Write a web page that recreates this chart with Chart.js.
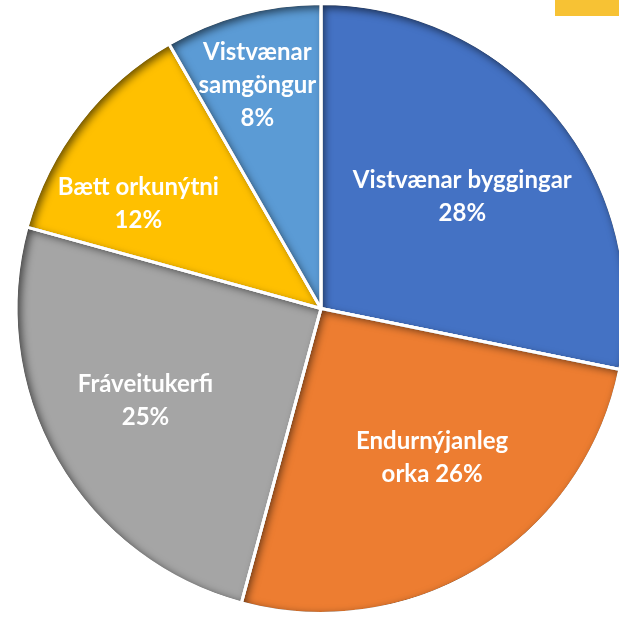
<!DOCTYPE html>
<html>
<head>
<meta charset="utf-8">
<script src="https://cdn.jsdelivr.net/npm/chart.js@4/dist/chart.umd.min.js"></script>
<style>
  html, body { margin: 0; padding: 0; background: #ffffff; overflow: hidden; }
  #wrap { position: absolute; left: 0; top: 0; width: 642px; height: 620px; }
  #tag { position: absolute; left: 555px; top: 0; width: 64px; height: 16px; background: #F7C234; }
</style>
</head>
<body>
<div id="wrap"><canvas id="c"></canvas></div>
<div id="tag"></div>
<script>
const categories = ["Vistvænar byggingar", "Endurnýjanleg orka", "Fráveitukerfi", "Bætt orkunýtni", "Vistvænar samgöngur"];
const shares = [28.2, 26.0, 25.1, 12.4, 8.3];
const colors = ["#4472C4", "#ED7D31", "#A5A5A5", "#FFC000", "#5B9BD5"];
// words per label line (last line includes the percentage)
const lineWords = [[2, 1], [1, 2], [1, 1], [2, 1], [1, 1, 1]];

function labelLines(i) {
  const words = (categories[i] + " " + Math.round(shares[i]) + "%").split(" ");
  const out = [];
  let k = 0;
  lineWords[i].forEach(n => { out.push(words.slice(k, k + n).join(" ")); k += n; });
  return out;
}

const innerShadow = {
  id: "innerShadow",
  afterDatasetsDraw(chart) {
    const ctx = chart.ctx;
    const meta = chart.getDatasetMeta(0);
    meta.data.forEach(arc => {
      const p = arc.getProps(["x", "y", "startAngle", "endAngle", "outerRadius"], true);
      ctx.save();
      ctx.beginPath();
      ctx.moveTo(p.x, p.y);
      ctx.arc(p.x, p.y, p.outerRadius - 1.5, p.startAngle, p.endAngle);
      ctx.closePath();
      ctx.clip();
      ctx.beginPath();
      ctx.rect(-2000, -2000, 5000, 5000);
      ctx.moveTo(p.x, p.y);
      ctx.arc(p.x, p.y, p.outerRadius - 1.5, p.startAngle, p.endAngle);
      ctx.closePath();
      ctx.shadowColor = "rgba(0,0,0,0.6)";
      ctx.shadowBlur = 8;
      ctx.shadowOffsetX = 3;
      ctx.shadowOffsetY = 3;
      ctx.fillStyle = "rgba(0,0,0,1)";
      ctx.fill("evenodd");
      ctx.restore();
      ctx.save();
      ctx.beginPath();
      ctx.moveTo(p.x, p.y);
      ctx.arc(p.x, p.y, p.outerRadius, p.startAngle, p.endAngle);
      ctx.closePath();
      ctx.strokeStyle = "#ffffff";
      ctx.lineWidth = 3;
      ctx.lineJoin = "bevel";
      ctx.stroke();
      ctx.restore();
    });
  }
};

const sliceLabels = {
  id: "sliceLabels",
  afterDatasetsDraw(chart, args, opts) {
    const ctx = chart.ctx;
    const meta = chart.getDatasetMeta(0);
    ctx.save();
    ctx.fillStyle = "#ffffff";
    ctx.font = "bold 24px Lato, 'Open Sans', sans-serif";
    ctx.textAlign = "center";
    ctx.textBaseline = "middle";
    meta.data.forEach((arc, i) => {
      const p = arc.getProps(["x", "y", "startAngle", "endAngle", "outerRadius"], true);
      const mid = (p.startAngle + p.endAngle) / 2 + (opts.angleShift[i] || 0) * Math.PI / 180;
      const r = p.outerRadius * opts.radial[i];
      const cx = p.x + Math.cos(mid) * r;
      const cy = p.y + Math.sin(mid) * r;
      const lines = labelLines(i);
      const lh = 33;
      lines.forEach((t, j) => {
        ctx.fillText(t, cx, cy + (j - (lines.length - 1) / 2) * lh);
      });
    });
    ctx.restore();
  }
};

new Chart(document.getElementById("c"), {
  type: "pie",
  data: {
    labels: categories,
    datasets: [{
      data: shares,
      backgroundColor: colors,
      borderColor: "#ffffff",
      borderWidth: 3
    }]
  },
  options: {
    responsive: true,
    maintainAspectRatio: false,
    animation: false,
    rotation: 0,
    layout: { padding: { top: 2, bottom: 5, left: 0, right: 0 } },
    plugins: {
      legend: { display: false },
      tooltip: { enabled: false },
      sliceLabels: {
        radial: [0.59, 0.61, 0.65, 0.69, 0.76],
        angleShift: [1, -5, 2, -8, -1]
      }
    }
  },
  plugins: [innerShadow, sliceLabels]
});
</script>
</body>
</html>
